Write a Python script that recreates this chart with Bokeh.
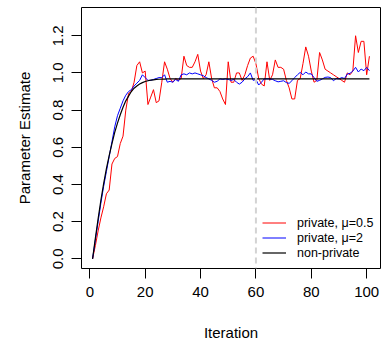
from bokeh.plotting import figure
from bokeh.models import FixedTicker, Span, Legend, LegendItem, Range1d
from bokeh.embed import file_html
from bokeh.resources import INLINE

iterations = list(range(1, 102))

private_mu05 = [
    0.00, 0.07, 0.15, 0.22, 0.28, 0.35, 0.37, 0.51, 0.54, 0.55,
    0.62, 0.66, 0.80, 0.89, 0.90, 0.95, 1.04, 1.06, 1.00, 1.01,
    0.83, 0.87, 0.91, 0.84, 0.85, 0.95, 1.06, 1.02, 0.97, 0.95,
    0.97, 0.96, 0.97, 1.09, 1.04, 1.03, 1.03, 1.06, 1.10, 1.01,
    0.97, 0.99, 1.06, 0.97, 0.92, 0.92, 0.90, 0.86, 0.83, 1.06,
    0.95, 0.95, 1.00, 1.00, 0.96, 0.99, 1.04, 1.08, 1.09, 1.05,
    0.97, 0.94, 0.93, 1.06, 0.96, 0.99, 1.07, 1.03, 1.03, 1.02,
    0.96, 0.92, 0.86, 0.86, 0.96, 0.97, 1.05, 1.14, 1.09, 1.01,
    0.95, 0.96, 1.11, 1.07, 1.02, 1.01, 1.00, 0.99, 0.98, 0.97,
    0.96, 0.95, 1.00, 0.99, 1.01, 1.20, 1.11, 1.17, 1.17, 0.99,
    1.09,
]

private_mu2 = [
    0.00, 0.10, 0.20, 0.30, 0.39, 0.47, 0.55, 0.63, 0.71, 0.77,
    0.81, 0.85, 0.88, 0.90, 0.91, 0.93, 0.945, 0.96, 0.99, 0.975,
    0.96, 0.96, 0.965, 0.97, 0.975, 0.975, 0.99, 0.95, 0.955, 0.95,
    0.965, 0.955, 0.99, 0.995, 0.99, 1.00, 0.995, 1.00, 0.995, 0.99,
    0.985, 0.975, 0.968, 0.96, 0.95, 0.955, 0.968, 0.965, 0.968, 0.965,
    0.96, 0.965, 0.95, 0.94, 0.95, 0.968, 0.98, 1.00, 0.96, 0.965,
    0.935, 0.95, 0.968, 0.968, 0.968, 0.965, 0.958, 0.952, 0.955, 0.958,
    0.948, 0.944, 0.958, 0.975, 0.99, 1.003, 0.99, 1.005, 0.995, 0.995,
    0.975, 0.955, 0.96, 0.968, 0.976, 0.978, 0.975, 0.958, 0.97, 0.968,
    0.975, 0.97, 0.994, 0.998, 1.01, 1.03, 1.005, 1.021, 1.012, 1.03,
    1.012,
]

non_private = [
    0.00, 0.11, 0.215, 0.315, 0.405, 0.485, 0.555, 0.62, 0.68, 0.73,
    0.775, 0.815, 0.85, 0.875, 0.90, 0.918, 0.93, 0.94, 0.948, 0.954,
    0.958, 0.961, 0.963, 0.965, 0.966, 0.967, 0.967, 0.968, 0.968, 0.968,
    0.968, 0.968, 0.968, 0.968, 0.968, 0.968, 0.968, 0.968, 0.968, 0.968,
    0.968, 0.968, 0.968, 0.968, 0.968, 0.968, 0.968, 0.968, 0.968, 0.968,
    0.968, 0.968, 0.968, 0.968, 0.968, 0.968, 0.968, 0.968, 0.968, 0.968,
    0.968, 0.968, 0.968, 0.968, 0.968, 0.968, 0.968, 0.968, 0.968, 0.968,
    0.968, 0.968, 0.968, 0.968, 0.968, 0.968, 0.968, 0.968, 0.968, 0.968,
    0.968, 0.968, 0.968, 0.968, 0.968, 0.968, 0.968, 0.968, 0.968, 0.968,
    0.968, 0.968, 0.968, 0.968, 0.968, 0.968, 0.968, 0.968, 0.968, 0.968,
    0.968,
]

x_ticks = [0, 20, 40, 60, 80, 100]
y_ticks = [0.0, 0.2, 0.4, 0.6, 0.8, 1.0, 1.2]
y_tick_labels = {0.0: "0.0", 0.2: "0.2", 0.4: "0.4", 0.6: "0.6", 0.8: "0.8", 1.0: "1.0", 1.2: "1.2"}
marker_iteration = 60
series_labels = ["private, \u03bc=0.5", "private, \u03bc=2", "non-private"]

FONT = "Liberation Sans"

p = figure(width=381, height=343, output_backend="svg", toolbar_location=None,
           x_range=Range1d(-3, 105), y_range=Range1d(-0.052, 1.352),
           min_border_left=81, min_border_right=1, min_border_top=7, min_border_bottom=75)

p.background_fill_color = "white"
p.border_fill_color = "white"
p.outline_line_color = "black"
p.outline_line_width = 1
p.xgrid.visible = False
p.ygrid.visible = False

p.add_layout(Span(location=marker_iteration, dimension="height", line_color="#D3D3D3",
                  line_width=2, line_dash="6 4"))

r_red = p.line(iterations, private_mu05, line_color="red", line_width=1)
r_blue = p.line(iterations, private_mu2, line_color="blue", line_width=1)
r_black = p.line(iterations, non_private, line_color="black", line_width=1.2)

for ax in (p.xaxis[0], p.yaxis[0]):
    ax.axis_line_color = None
    ax.major_tick_line_color = "black"
    ax.major_tick_out = 10
    ax.major_tick_in = 0
    ax.minor_tick_line_color = None
    ax.major_label_text_font = FONT
    ax.major_label_text_font_size = "15px"
    ax.major_label_text_color = "black"
    ax.axis_label_text_font = FONT
    ax.axis_label_text_font_size = "15px"
    ax.axis_label_text_font_style = "normal"
    ax.axis_label_text_color = "black"

p.xaxis.ticker = FixedTicker(ticks=x_ticks)
p.yaxis.ticker = FixedTicker(ticks=y_ticks)
p.yaxis.major_label_overrides = y_tick_labels
p.yaxis.major_label_orientation = "vertical"
p.xaxis.major_label_standoff = 8
p.yaxis.major_label_standoff = 8
p.xaxis.axis_label = "Iteration"
p.yaxis.axis_label = "Parameter Estimate"
p.xaxis.axis_label_standoff = 24
p.yaxis.axis_label_standoff = 18

legend = Legend(items=[
    LegendItem(label=series_labels[0], renderers=[r_red]),
    LegendItem(label=series_labels[1], renderers=[r_blue]),
    LegendItem(label=series_labels[2], renderers=[r_black]),
], location=(181, 8))
legend.background_fill_alpha = 0
legend.border_line_color = None
legend.padding = 0
legend.margin = 0
legend.spacing = 0
legend.label_height = 15
legend.glyph_height = 15
legend.glyph_width = 24
legend.label_standoff = 11
legend.label_text_font = FONT
legend.label_text_font_size = "12.5px"
legend.label_text_color = "black"
p.add_layout(legend)

open("out.html", "w").write(file_html(p, INLINE))
